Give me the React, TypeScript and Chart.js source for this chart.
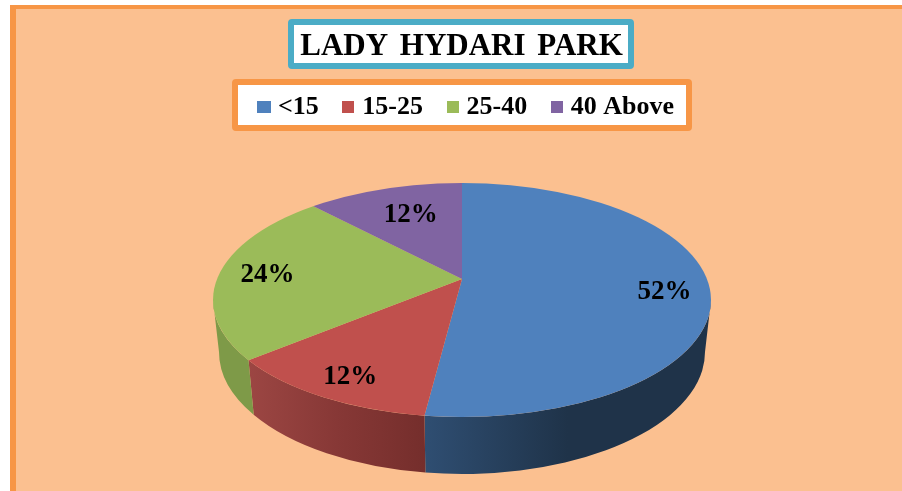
import React, { useEffect, useRef } from "react";
import { Chart, registerables } from "chart.js";

Chart.register(...registerables);

const titleText = "LADY HYDARI PARK";
const categories = ["<15", "15-25", "25-40", "40 Above"];
const shares = [52, 12, 24, 12];
const faceColors = ["#4F81BD", "#C0504D", "#9BBB59", "#8064A2"];
const wallStops = [
  ["#2F4E72", "#1F3349", "#1F3349"],
  ["#9C4643", "#873836", "#752E2C"],
  ["#7E9A48", "#7E9A48", "#7E9A48"],
  ["#604B7A", "#604B7A", "#604B7A"],
];
const SERIF = "'Liberation Serif', 'Times New Roman', serif";

const W = 902;
const H = 491;
const apex = { x: 462, y: 279 };
const tilt = 0.46;
const top = { x: 462, y: 300, rx: 249, ry: 117 };
const bottom = { x: 462, y: 352, rx: 243, ry: 122 };
const labelPlace = [
  { r: 203, dy: 7 },
  { r: 232, dy: 5 },
  { r: 195, dy: 2 },
  { r: 139, dy: -5 },
];

function rayParam(phi: number) {
  const dx = Math.cos(phi);
  const dy = tilt * Math.sin(phi);
  const ox = (apex.x - top.x) / top.rx;
  const oy = (apex.y - top.y) / top.ry;
  const ux = dx / top.rx;
  const uy = dy / top.ry;
  const a = ux * ux + uy * uy;
  const b = 2 * (ox * ux + oy * uy);
  const c = ox * ox + oy * oy - 1;
  const s = (-b + Math.sqrt(b * b - 4 * a * c)) / (2 * a);
  let t = Math.atan2(oy + s * uy, ox + s * ux);
  if (t < -Math.PI / 2 - 1e-6) t += 2 * Math.PI;
  return t;
}

function box(ctx: CanvasRenderingContext2D, x: number, y: number, w: number, h: number, color: string) {
  ctx.beginPath();
  ctx.roundRect(x + 3, y + 3, w - 6, h - 6, 1);
  ctx.fillStyle = "#FFFFFF";
  ctx.fill();
  ctx.lineWidth = 6;
  ctx.strokeStyle = color;
  ctx.lineJoin = "round";
  ctx.stroke();
}

const pie3d = {
  id: "pie3d",
  beforeDraw(chart: any) {
    const ctx = chart.ctx;
    ctx.save();
    ctx.fillStyle = "#FFFFFF";
    ctx.fillRect(0, 0, W, H);
    ctx.fillStyle = "#F79646";
    ctx.fillRect(10, 5, W - 10, H - 5);
    ctx.fillStyle = "#FBC090";
    ctx.fillRect(16, 9, W - 16, H - 9);
    box(ctx, 288, 19, 346, 50, "#4BACC6");
    box(ctx, 232, 79, 460, 52, "#F79646");
    ctx.restore();
  },
  afterLayout(chart: any) {
    const t = chart.titleBlock;
    const th = t.height;
    t.left = 0;
    t.right = 923;
    t.top = 47 - th / 2;
    t.bottom = t.top + th;
    if (!t.__spaced) {
      const drawTitle = t.draw;
      t.draw = function () {
        chart.ctx.wordSpacing = "4px";
        drawTitle.call(t);
        chart.ctx.wordSpacing = "0px";
      };
      t.__spaced = true;
    }
    const l = chart.legend;
    const lh = l.height;
    l.left = 0;
    l.right = 937;
    l.top = 98 - lh / 2;
    l.bottom = l.top + lh;
  },
  beforeDatasetsDraw(chart: any) {
    const ctx = chart.ctx;
    const arcs = chart.getDatasetMeta(0).data;
    ctx.save();
    arcs.forEach((arc: any, i: number) => {
      let a = rayParam(arc.startAngle);
      let b = rayParam(arc.endAngle);
      if (b <= a) b += 2 * Math.PI;
      a = Math.max(a, 0);
      b = Math.min(b, Math.PI);
      if (b <= a) return;
      const x0 = top.x + top.rx * Math.cos(a);
      const x1 = top.x + top.rx * Math.cos(b);
      const g = ctx.createLinearGradient(Math.min(x0, x1), 0, Math.max(x0, x1), 0);
      wallStops[i].forEach((c, k) => g.addColorStop(k / 2, c));
      ctx.beginPath();
      ctx.ellipse(top.x, top.y, top.rx, top.ry, 0, a, b, false);
      ctx.ellipse(bottom.x, bottom.y, bottom.rx, bottom.ry, 0, b, a, true);
      ctx.closePath();
      ctx.fillStyle = g;
      ctx.fill();
    });
    ctx.restore();
    ctx.save();
    ctx.beginPath();
    ctx.ellipse(top.x, top.y, top.rx, top.ry, 0, 0, 2 * Math.PI);
    ctx.clip();
    ctx.translate(apex.x, apex.y);
    ctx.scale(1, tilt);
    ctx.translate(-arcs[0].x, -arcs[0].y);
  },
  afterDatasetsDraw(chart: any) {
    const ctx = chart.ctx;
    ctx.restore();
    const arcs = chart.getDatasetMeta(0).data;
    ctx.save();
    ctx.font = `bold 27px ${SERIF}`;
    ctx.fillStyle = "#000000";
    ctx.textAlign = "center";
    ctx.textBaseline = "middle";
    arcs.forEach((arc: any, i: number) => {
      const mid = (arc.startAngle + arc.endAngle) / 2;
      const p = labelPlace[i];
      const x = apex.x + p.r * Math.cos(mid);
      const y = apex.y + p.r * tilt * Math.sin(mid) + p.dy;
      ctx.fillText(`${shares[i]}%`, x, y);
    });
    ctx.restore();
  },
};

function marker(color: string, w: number) {
  const c = document.createElement("canvas");
  c.width = w;
  c.height = 12;
  const g = c.getContext("2d")!;
  g.fillStyle = color;
  g.fillRect(0, 0, w, 12);
  return c;
}

export default function App() {
  const ref = useRef<HTMLCanvasElement>(null);
  useEffect(() => {
    document.body.style.margin = "0";
    const chart = new Chart(ref.current!, {
      type: "pie",
      data: {
        labels: categories,
        datasets: [
          {
            data: shares,
            backgroundColor: faceColors,
            borderWidth: 0,
            radius: 900,
          } as any,
        ],
      },
      options: {
        responsive: false,
        animation: false,
        events: [],
        layout: { padding: 0 },
        plugins: {
          tooltip: { enabled: false },
          title: {
            display: true,
            text: titleText,
            color: "#000000",
            padding: 0,
            font: { family: SERIF, size: 31, weight: "bold" },
          },
          legend: {
            display: true,
            position: "top",
            labels: {
              color: "#000000",
              padding: 28.5,
              boxWidth: 2,
              usePointStyle: true,
              font: { family: SERIF, size: 26, weight: "bold" },
              generateLabels: () =>
                categories.map((text, i) => ({
                  text,
                  index: i,
                  datasetIndex: 0,
                  pointStyle: marker(faceColors[i], i === 0 ? 14 : 12),
                  fontColor: "#000000",
                  lineWidth: 0,
                })),
            },
          },
        },
      } as any,
      plugins: [pie3d as any],
    });
    return () => chart.destroy();
  }, []);
  return (
    <div style={{ position: "absolute", left: 0, top: 0, width: W, height: H }}>
      <canvas ref={ref} width={W} height={H} style={{ display: "block" }} />
    </div>
  );
}
